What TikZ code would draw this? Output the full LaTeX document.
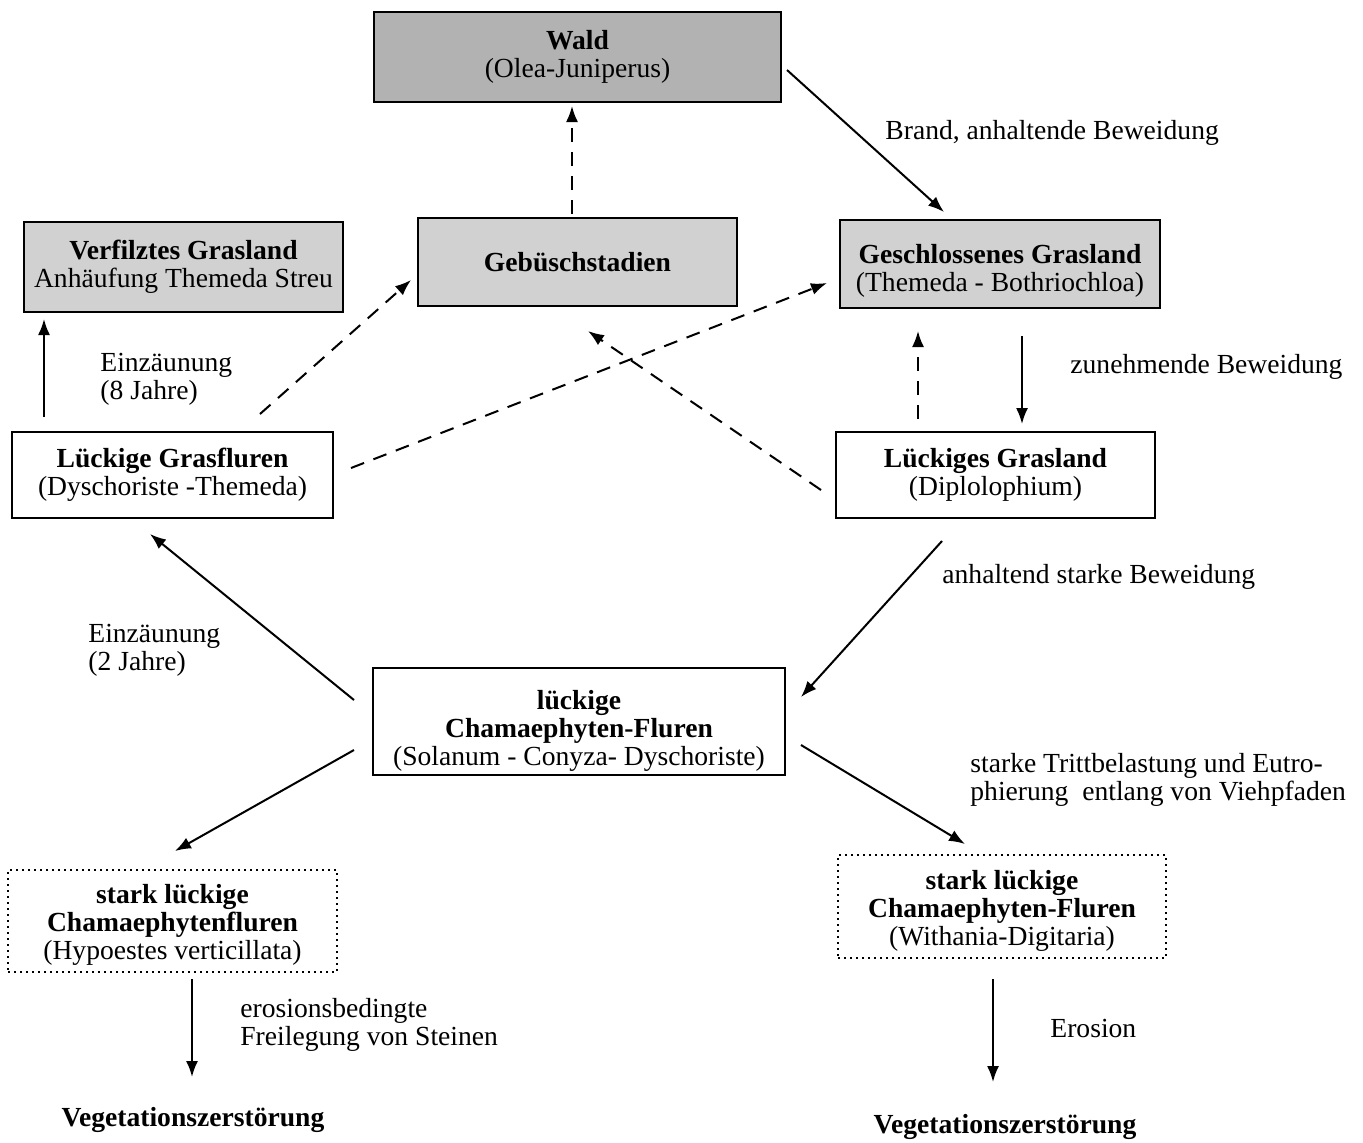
\documentclass[tikz,border=0pt]{standalone}
\usepackage{fontspec}
\setmainfont{Liberation Serif}
\usetikzlibrary{arrows.meta,calc}
\newcommand\myfs{\fontsize{13.8}{14}\selectfont}
\begin{document}
\begin{tikzpicture}[x=0.5pt,y=-0.5pt,
  box/.style={draw, line width=1pt, inner sep=0pt, align=center, font=\myfs},
  shaded/.style={box, fill=black!18},
  dark/.style={box, fill=black!30},
  dotbox/.style={box, dotted},
  txt/.style={inner sep=0pt, align=center, font=\myfs},
  lbl/.style={anchor=west, align=left, inner sep=0pt, font=\myfs},
  arr/.style={line width=1pt, -{Latex[length=8pt,width=6pt]}},
  darr/.style={arr, dash pattern=on 7pt off 5pt}]
\useasboundingbox (0,0) rectangle (1363,1142);
\fill[white] (0,0) rectangle (1363,1142);
% boxes
\node[dark, minimum width=203.5pt, minimum height=45pt] (wald) at (577.5,57) {\textbf{Wald}\\(Olea-Juniperus)};
\node[shaded, minimum width=159.5pt, minimum height=44pt] (geb) at (577.5,262) {\textbf{Gebüschstadien}};
\node[shaded, minimum width=159.5pt, minimum height=45pt] (verf) at (183.5,267) {\textbf{Verfilztes Grasland}\\Anhäufung Themeda Streu};
\node[shaded, minimum width=160pt, minimum height=44pt] (geschl) at (1000,264) {};
\node[txt] (geschlt) at (1000,271) {\textbf{Geschlossenes Grasland}\\(Themeda - Bothriochloa)};
\node[box, minimum width=160.5pt, minimum height=43pt] (lgf) at (172.5,475) {\textbf{Lückige Grasfluren}\\(Dyschoriste -Themeda)};
\node[box, minimum width=159.5pt, minimum height=43pt] (lgl) at (995.5,475) {\textbf{Lückiges Grasland}\\(Diplolophium)};
\node[box, minimum width=206pt, minimum height=53.5pt] (cham) at (579,721.5) {};
\node[txt] (chamt) at (579,731) {\textbf{lückige}\\\textbf{Chamaephyten-Fluren}\\(Solanum - Conyza- Dyschoriste)};
\node[dotbox, minimum width=164.5pt, minimum height=51pt] (slL) at (172.5,921) {};
\node[txt] (slLt) at (172.5,925) {\textbf{stark lückige}\\\textbf{Chamaephytenfluren}\\(Hypoestes verticillata)};
\node[dotbox, minimum width=164pt, minimum height=51.5pt] (slR) at (1002,906.5) {};
\node[txt] (slRt) at (1002,911) {\textbf{stark lückige}\\\textbf{Chamaephyten-Fluren}\\(Withania-Digitaria)};
\node[inner sep=0pt, font=\myfs\bfseries] (vegL) at (193,1120) {Vegetationszerstörung};
\node[inner sep=0pt, font=\myfs\bfseries] (vegR) at (1005,1127) {Vegetationszerstörung};
% labels
\node[lbl] (l1) at (885,133) {Brand, anhaltende Beweidung};
\node[lbl] (l2) at (100,379) {Einzäunung\\(8 Jahre)};
\node[lbl] (l3) at (1070,367) {zunehmende Beweidung};
\node[lbl] (l4) at (942,577) {anhaltend starke Beweidung};
\node[lbl] (l5) at (88,650) {Einzäunung\\(2 Jahre)};
\node[lbl] (l6) at (970,780) {starke Trittbelastung und Eutro-\\phierung\ \ entlang von Viehpfaden};
\node[lbl] (l7) at (240,1025) {erosionsbedingte\\Freilegung von Steinen};
\node[lbl] (l8) at (1050,1028) {Erosion};
% connectors
\draw[arr] ($(wald.east)+(5,13)$) -- ($(geschl.north)+(-56,-7)$);
\draw[darr] ($(geb.north)+(-5.5,-3)$) -- ($(wald.south)+(-5.5,3)$);
\draw[arr] ($(lgf.north west)+(33,-14)$) -- ($(verf.south west)+(21,6)$);
\draw[darr] ($(lgf.north)+(87.5,-17)$) -- ($(geb.west)+(-6,18)$);
\draw[darr] ($(lgf.east)+(17,-7)$) -- ($(geschl.west)+(-12,19)$);
\draw[darr] ($(lgl.west)+(-14,15)$) -- ($(geb.south)+(10.5,24)$);
\draw[darr] ($(lgl.north)+(-77.5,-12)$) -- ($(geschl.south)+(-82,22)$);
\draw[arr] ($(geschl.south)+(22,27)$) -- ($(lgl.north)+(26.5,-7)$);
\draw[arr] ($(lgl.south)+(-53.5,22)$) -- ($(cham.east)+(15,-24.5)$);
\draw[arr] ($(cham.west)+(-18,-21.5)$) -- ($(lgf.south)+(-22.5,15)$);
\draw[arr] ($(cham.west)+(-18,28.5)$) -- ($(slL.north)+(2.5,-18)$);
\draw[arr] ($(cham.east)+(15,23.5)$) -- ($(slR.north)+(-37,-10)$);
\draw[arr] ($(slL.south)+(19.5,6)$) -- ($(vegL.center)+(-1,-43)$);
\draw[arr] ($(slR.south)+(-9,20)$) -- ($(vegR.center)+(-12,-45)$);
\end{tikzpicture}
\end{document}
